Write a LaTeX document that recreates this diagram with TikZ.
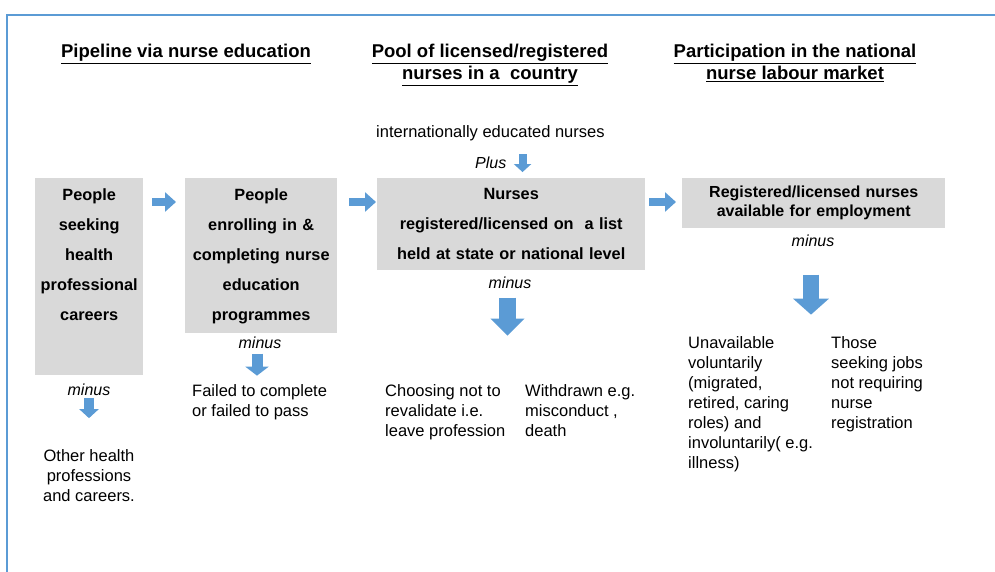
\documentclass[tikz,border=0pt]{standalone}
\usepackage{fontspec}
\setmainfont{Liberation Sans}
\usepackage{tikz}
\usetikzlibrary{arrows.meta,calc}

\definecolor{arrowblue}{RGB}{91,155,213}
\definecolor{boxgray}{RGB}{217,217,217}

\begin{document}
\begin{tikzpicture}[x=1pt,y=-1pt,
  head/.style={font=\bfseries\fontsize{18.5}{22}\selectfont,align=center,
    anchor=north,inner sep=0pt},
  stage/.style={fill=boxgray,font=\bfseries\fontsize{16.3}{30}\selectfont,
    align=center,anchor=north west,inner xsep=0pt,inner ysep=10pt},
  note/.style={font=\fontsize{16.5}{20}\selectfont,align=left,
    anchor=north west,inner sep=0pt},
  op/.style={font=\itshape\fontsize{16}{20}\selectfont,inner sep=0pt,
    anchor=north},
  flow/.style n args={3}{draw=arrowblue,line width=#1,
    -{Triangle[width=#2,length=#3]}}]

  \useasboundingbox (0,0) rectangle (995,572);
  \draw[arrowblue,line width=1.5pt] (7,572) -- (7,15) -- (995,15);

  % column headings
  \node[head] (h1) at (186,44) {\underline{Pipeline via nurse education}};
  \node[head] (h2) at (490,44) {\underline{Pool of licensed/registered}\\
    \underline{nurses in a~ country}};
  \node[head] (h3) at (795,44) {\underline{Participation in the national}\\
    \underline{nurse labour market}};

  % stages
  \node[stage,text width=108pt] (p1) at (35,178)
    {People\\seeking\\health\\professional\\careers\rule[-45pt]{0pt}{45pt}};
  \node[stage,text width=152pt] (p2) at (185,178)
    {People\\enrolling in \&\\completing nurse\\education\\programmes};
  \node[stage,text width=268pt] (p3) at (377,178)
    {Nurses\\registered/licensed on~ a list\\held at state or national level};
  \node[stage,text width=263pt,inner ysep=8pt,
    font=\bfseries\fontsize{16}{19}\selectfont] (p4) at (682,178)
    {Registered/licensed nurses\\available for employment};

  \draw[flow={8pt}{19pt}{11pt}] ($(p1.north east)+(9,24)$) -- ($(p2.north west)+(-9,24)$);
  \draw[flow={8pt}{19pt}{11pt}] ($(p2.north east)+(12,24)$) -- ($(p3.north west)+(-1,24)$);
  \draw[flow={8pt}{19pt}{11pt}] ($(p3.north east)+(4,24)$) -- ($(p4.north west)+(-6,24)$);

  % inflow
  \node[note] (intl) at (376,125) {internationally educated nurses};
  \node[op,anchor=north west] (plus) at (475,157) {Plus};
  \draw[flow={8pt}{17pt}{8pt}] ($(plus.east)+(16,-9)$) -- ($(plus.east)+(16,9)$);

  % outflows
  \node[op] (m1) at (89,384) {minus};
  \draw[flow={10pt}{19pt}{9pt}] ($(m1.south)+(0,1.5)$) -- ($(m1.south)+(0,22)$);
  \node[note,align=center,anchor=north] (o1) at (89,449)
    {Other health\\professions\\and careers.};

  \node[op] (m2) at (260,337) {minus};
  \draw[flow={11pt}{23pt}{9pt}] ($(m2.south)+(-3,4.5)$) -- ($(m2.south)+(-3,26.5)$);
  \node[note] (o2) at (192,384) {Failed to complete\\or failed to pass};

  \node[op] (m3) at (510,277) {minus};
  \draw[flow={17pt}{33pt}{17pt}] ($(m3.south)+(-2.5,8.5)$) -- ($(m3.south)+(-2.5,46.5)$);
  \node[note] (o3a) at (385,384) {Choosing not to\\revalidate i.e.\\leave profession};
  \node[note] (o3b) at (525,384) {Withdrawn e.g.\\misconduct ,\\death};

  \node[op] (m4) at (813,235) {minus};
  \draw[flow={16pt}{35pt}{16pt}] ($(m4.south)+(-2,27.5)$) -- ($(m4.south)+(-2,67.5)$);
  \node[note] (o4a) at (688,336) {Unavailable\\voluntarily\\(migrated,\\retired, caring\\roles) and\\involuntarily( e.g.\\illness)};
  \node[note] (o4b) at (831,336) {Those\\seeking jobs\\not requiring\\nurse\\registration};
\end{tikzpicture}
\end{document}
